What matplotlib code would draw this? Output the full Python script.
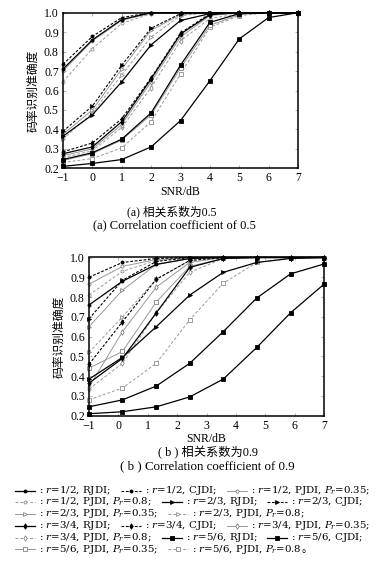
import matplotlib
matplotlib.use("Agg")
import matplotlib.pyplot as plt
from matplotlib.lines import Line2D

plt.rcParams['font.family'] = ['Liberation Serif', 'Noto Sans CJK SC']
plt.rcParams['mathtext.fontset'] = 'dejavuserif'

# SNR (dB) points
snr_a = [-1, 0, 1, 2, 3, 4, 5, 6, 7]
snr_b = [-1, 0.14, 1.29, 2.43, 3.57, 4.71, 5.86, 7]

rates = ['1/2', '2/3', '3/4', '5/6']
methods = ['RJDI', 'CJDI', 'P035', 'P08']

# (a) correlation coefficient 0.5
a_r12_rjdi = [0.71, 0.86, 0.965, 1.0, 1.0, 1.0, 1.0, 1.0, 1.0]
a_r12_cjdi = [0.735, 0.878, 0.975, 1.0, 1.0, 1.0, 1.0, 1.0, 1.0]
a_r12_p035 = [0.70, 0.855, 0.96, 0.998, 1.0, 1.0, 1.0, 1.0, 1.0]
a_r12_p08 = [0.645, 0.815, 0.945, 0.995, 1.0, 1.0, 1.0, 1.0, 1.0]
a_r23_rjdi = [0.365, 0.475, 0.645, 0.835, 0.96, 0.995, 1.0, 1.0, 1.0]
a_r23_cjdi = [0.39, 0.52, 0.73, 0.92, 0.995, 1.0, 1.0, 1.0, 1.0]
a_r23_p035 = [0.375, 0.50, 0.71, 0.91, 0.99, 1.0, 1.0, 1.0, 1.0]
a_r23_p08 = [0.35, 0.485, 0.68, 0.875, 0.985, 1.0, 1.0, 1.0, 1.0]
a_r34_rjdi = [0.275, 0.31, 0.44, 0.66, 0.89, 0.99, 1.0, 1.0, 1.0]
a_r34_cjdi = [0.285, 0.33, 0.455, 0.665, 0.895, 0.995, 1.0, 1.0, 1.0]
a_r34_p035 = [0.265, 0.30, 0.425, 0.645, 0.875, 0.985, 1.0, 1.0, 1.0]
a_r34_p08 = [0.255, 0.29, 0.41, 0.615, 0.855, 0.97, 0.995, 1.0, 1.0]
a_r56_rjdi = [0.245, 0.28, 0.35, 0.485, 0.73, 0.95, 0.995, 1.0, 1.0]
a_r56_cjdi = [0.21, 0.225, 0.245, 0.31, 0.445, 0.65, 0.865, 0.975, 1.0]
a_r56_p035 = [0.24, 0.275, 0.345, 0.475, 0.715, 0.935, 0.99, 1.0, 1.0]
a_r56_p08 = [0.23, 0.25, 0.305, 0.44, 0.685, 0.925, 0.985, 1.0, 1.0]

# (b) correlation coefficient 0.9
b_r12_rjdi = [0.76, 0.88, 0.965, 0.995, 1.0, 1.0, 1.0, 1.0]
b_r12_cjdi = [0.90, 0.975, 0.995, 1.0, 1.0, 1.0, 1.0, 1.0]
b_r12_p035 = [0.865, 0.955, 0.99, 1.0, 1.0, 1.0, 1.0, 1.0]
b_r12_p08 = [0.81, 0.93, 0.985, 1.0, 1.0, 1.0, 1.0, 1.0]
b_r23_rjdi = [0.385, 0.495, 0.65, 0.81, 0.925, 0.975, 0.995, 1.0]
b_r23_cjdi = [0.69, 0.885, 0.98, 1.0, 1.0, 1.0, 1.0, 1.0]
b_r23_p035 = [0.65, 0.835, 0.965, 0.995, 1.0, 1.0, 1.0, 1.0]
b_r23_p08 = [0.52, 0.70, 0.89, 0.985, 1.0, 1.0, 1.0, 1.0]
b_r34_rjdi = [0.365, 0.49, 0.72, 0.95, 0.995, 1.0, 1.0, 1.0]
b_r34_cjdi = [0.46, 0.675, 0.89, 0.985, 1.0, 1.0, 1.0, 1.0]
b_r34_p035 = [0.345, 0.625, 0.85, 0.975, 1.0, 1.0, 1.0, 1.0]
b_r34_p08 = [0.335, 0.465, 0.72, 0.925, 0.995, 1.0, 1.0, 1.0]
b_r56_rjdi = [0.245, 0.28, 0.35, 0.465, 0.625, 0.795, 0.917, 0.967]
b_r56_cjdi = [0.21, 0.22, 0.245, 0.295, 0.385, 0.545, 0.72, 0.865]
b_r56_p035 = [0.44, 0.525, 0.775, 0.955, 0.995, 1.0, 1.0, 1.0]
b_r56_p08 = [0.28, 0.34, 0.465, 0.685, 0.87, 0.975, 0.995, 1.0]

data_a = [[a_r12_rjdi, a_r12_cjdi, a_r12_p035, a_r12_p08],
          [a_r23_rjdi, a_r23_cjdi, a_r23_p035, a_r23_p08],
          [a_r34_rjdi, a_r34_cjdi, a_r34_p035, a_r34_p08],
          [a_r56_rjdi, a_r56_cjdi, a_r56_p035, a_r56_p08]]
data_b = [[b_r12_rjdi, b_r12_cjdi, b_r12_p035, b_r12_p08],
          [b_r23_rjdi, b_r23_cjdi, b_r23_p035, b_r23_p08],
          [b_r34_rjdi, b_r34_cjdi, b_r34_p035, b_r34_p08],
          [b_r56_rjdi, b_r56_cjdi, b_r56_p035, b_r56_p08]]

markers = ['o', '>', 'd', 's']
msizes = [2.2, 2.8, 2.8, 2.4]


def style(i, j):
    """线型: RJDI 黑实线, CJDI 黑虚线, PJDI 灰色空心"""
    if j == 0 or (i == 3 and j == 1):
        return dict(color='k', ls='-', lw=0.9, mfc='k', mec='k')
    if j == 1:
        return dict(color='k', ls=(0, (2.5, 1.5)), lw=0.8, mfc='k', mec='k')
    if j == 2:
        return dict(color='0.6', ls='-', lw=0.7, mfc='white', mec='0.5')
    return dict(color='0.6', ls=(0, (3, 2)), lw=0.7, mfc='white', mec='0.55')


W, H = 390, 588
fig = plt.figure(figsize=(W / 100, H / 100), dpi=100)


def box(l, t, r, b):
    return [l / W, 1 - b / H, (r - l) / W, (b - t) / H]


ax_a = fig.add_axes(box(63, 12.7, 298, 168.3))
ax_b = fig.add_axes(box(89, 257.5, 324, 415.7))

for ax, snr, data in [(ax_a, snr_a, data_a), (ax_b, snr_b, data_b)]:
    # 画灰色先, 黑色在上
    for j in [3, 2, 1, 0]:
        for i in range(4):
            st = style(i, j)
            ax.plot(snr, data[i][j], marker=markers[i], ms=msizes[i],
                    mew=0.6, clip_on=False, zorder=3 if st['color'] == 'k' else 2, **st)
    ax.set_xlim(-1, 7)
    ax.set_ylim(0.2, 1.0)
    ax.set_xticks(range(-1, 8))
    ax.set_yticks([0.2, 0.3, 0.4, 0.5, 0.6, 0.7, 0.8, 0.9, 1.0])
    ax.set_yticklabels([f'{v:.1f}' for v in ax.get_yticks()])
    ax.tick_params(direction='in', length=2, width=0.5, color='0.6',
                   top=True, right=True, labelsize=8.5, pad=3)
    for sp in ax.spines.values():
        sp.set_linewidth(1.1)
    ax.set_xlabel('SNR/dB', fontsize=8.5, labelpad=1)
    ax.set_ylabel('码率识别准确度', fontsize=8.5, labelpad=3)

fig.text(172 / W, 1 - 211.5 / H, '(a) 相关系数为0.5', ha='center', va='center', fontsize=8.5)
fig.text(174 / W, 1 - 225 / H, '(a) Correlation coefficient of 0.5', ha='center', va='center', fontsize=9)
fig.text(208 / W, 1 - 453 / H, '( b ) 相关系数为0.9', ha='center', va='center', fontsize=8.8)
fig.text(207 / W, 1 - 466 / H, '( b ) Correlation coefficient of 0.9', ha='center', va='center', fontsize=9.3)

# 图例文字 (按原图排版)
legend_rows = [
    [(0, 0), (0, 1), (0, 2)],
    [(0, 3), (1, 0), (1, 1)],
    [(1, 2), (1, 3)],
    [(2, 0), (2, 1), (2, 2)],
    [(2, 3), (3, 0), (3, 1)],
    [(3, 2), (3, 3)],
]
row_y = [490.5, 502, 513.5, 525.5, 537.5, 549]
method_txt = ['RJDI', 'CJDI', r'PJDI, $P_r$=0.35', r'PJDI, $P_r$=0.8']
lfs = 7.4

renderer = fig.canvas.get_renderer()
for row, y in zip(legend_rows, row_y):
    x = 15
    yf = 1 - y / H
    for k, (i, j) in enumerate(row):
        st = style(i, j)
        fig.add_artist(Line2D([x / W, (x + 20) / W], [yf, yf], **{kk: st[kk] for kk in ['color', 'ls', 'lw']}))
        fig.add_artist(Line2D([(x + 10) / W], [yf], marker=markers[i], ms=msizes[i], mew=0.6,
                              mfc=st['mfc'], mec=st['mec'], ls='none'))
        last = (row is legend_rows[-1]) and k == len(row) - 1
        s = f': $r$={rates[i]}, {method_txt[j]}' + ('' if last else ';')
        t = fig.text((x + 24) / W, yf, s, ha='left', va='center', fontsize=lfs,
                     family='DejaVu Serif')
        bb = t.get_window_extent(renderer)
        x = bb.x1 + 10
    # 句号用中文字体单独写
    if row is legend_rows[-1]:
        fig.text((x - 10) / W, yf, '。', ha='left', va='center', fontsize=lfs,
                 family='Noto Sans CJK SC')

fig.savefig('out.png', dpi=100)
